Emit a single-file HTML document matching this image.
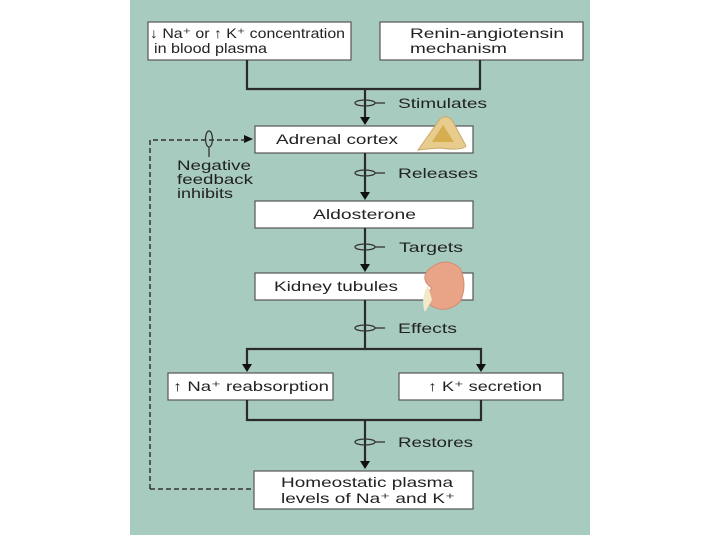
<!DOCTYPE html>
<html><head><meta charset="utf-8"><style>
html,body{margin:0;padding:0;background:#fff;}
svg{display:block}
text{font-family:"Liberation Sans",sans-serif;fill:#222;font-size:14px}
</style></head><body>
<svg width="720" height="540" viewBox="0 0 720 540">
<rect x="130" y="0" width="460" height="535" fill="#a8cbc0"/>
<g fill="#fff" stroke="#555" stroke-width="1.2">
<rect x="148" y="22" width="203" height="38"/>
<rect x="380" y="22" width="203" height="38"/>
<rect x="255" y="126" width="218" height="27"/>
<rect x="255" y="201" width="218" height="27"/>
<rect x="255" y="273" width="218" height="27"/>
<rect x="168" y="373" width="165" height="27"/>
<rect x="399" y="373" width="164" height="27"/>
<rect x="254" y="471" width="219" height="38"/>
</g>
<g stroke="#2a2a2a" stroke-width="2.2" fill="none">
<path d="M247 60V89H480V60"/>
<path d="M365 89V120"/>
<path d="M365 153V195"/>
<path d="M365 228V267"/>
<path d="M365 300V349"/>
<path d="M247 367V349H481V367"/>
<path d="M247 400V420H481V400"/>
<path d="M365 420V464"/>
</g>
<g fill="#111">
<path d="M360 117h10l-5 8z"/>
<path d="M360 192h10l-5 8z"/>
<path d="M360 264h10l-5 8z"/>
<path d="M242 364h10l-5 8z"/>
<path d="M476 364h10l-5 8z"/>
<path d="M360 461h10l-5 8z"/>
<path d="M244 135v8l9-4z"/>
</g>
<g fill="none" stroke="#333" stroke-width="1.3">
<ellipse cx="365" cy="103" rx="10" ry="3"/><path d="M375 103h10"/>
<ellipse cx="365" cy="173" rx="10" ry="3"/><path d="M375 173h10"/>
<ellipse cx="365" cy="247" rx="10" ry="3"/><path d="M375 247h10"/>
<ellipse cx="365" cy="328" rx="10" ry="3"/><path d="M375 328h10"/>
<ellipse cx="365" cy="442" rx="10" ry="3"/><path d="M375 442h10"/>
<ellipse cx="209" cy="139" rx="3.5" ry="8"/><path d="M209 147v10"/>
</g>
<g stroke="#333" stroke-width="1.5" fill="none" stroke-dasharray="5,3">
<path d="M150 489V140H245"/>
<path d="M150 489H254"/>
</g>
<path d="M418 150 L440 119 Q446 114 452 120 L466 146 Q462 151 440 148 Q425 149 418 150Z" fill="#e8cc8e" stroke="#c9a96a"/>
<path d="M432 142 L443 125 L454 142Z" fill="#d6ad4f"/>
<path d="M428 270 Q445 255 460 268 Q468 285 460 302 Q445 315 430 305 Q424 295 432 288 Q420 280 428 270Z" fill="#e9a487" stroke="#d38b6f"/>
<path d="M428 285 Q420 300 425 312 L432 300Z" fill="#f3e8c8"/>
<g>
<text x="150" y="38" textLength="195" lengthAdjust="spacingAndGlyphs">↓ Na⁺ or ↑ K⁺ concentration</text>
<text x="154" y="53" textLength="113" lengthAdjust="spacingAndGlyphs">in blood plasma</text>
<text x="410" y="38" textLength="154" lengthAdjust="spacingAndGlyphs">Renin-angiotensin</text>
<text x="410" y="53" textLength="97" lengthAdjust="spacingAndGlyphs">mechanism</text>
<text x="398" y="108" textLength="89" lengthAdjust="spacingAndGlyphs">Stimulates</text>
<text x="276" y="144" textLength="122" lengthAdjust="spacingAndGlyphs">Adrenal cortex</text>
<text x="398" y="178" textLength="80" lengthAdjust="spacingAndGlyphs">Releases</text>
<text x="313" y="219" textLength="103" lengthAdjust="spacingAndGlyphs">Aldosterone</text>
<text x="399" y="252" textLength="64" lengthAdjust="spacingAndGlyphs">Targets</text>
<text x="274" y="291" textLength="124" lengthAdjust="spacingAndGlyphs">Kidney tubules</text>
<text x="398" y="333" textLength="59" lengthAdjust="spacingAndGlyphs">Effects</text>
<text x="173" y="391" textLength="156" lengthAdjust="spacingAndGlyphs">↑ Na⁺ reabsorption</text>
<text x="428" y="391" textLength="114" lengthAdjust="spacingAndGlyphs">↑ K⁺ secretion</text>
<text x="398" y="447" textLength="75" lengthAdjust="spacingAndGlyphs">Restores</text>
<text x="281" y="487" textLength="172" lengthAdjust="spacingAndGlyphs">Homeostatic plasma</text>
<text x="281" y="503" textLength="174" lengthAdjust="spacingAndGlyphs">levels of Na⁺ and K⁺</text>
<text x="177" y="170" textLength="74" lengthAdjust="spacingAndGlyphs">Negative</text>
<text x="177" y="184" textLength="76" lengthAdjust="spacingAndGlyphs">feedback</text>
<text x="177" y="198" textLength="56" lengthAdjust="spacingAndGlyphs">inhibits</text>
</g>
</svg>
</body></html>
